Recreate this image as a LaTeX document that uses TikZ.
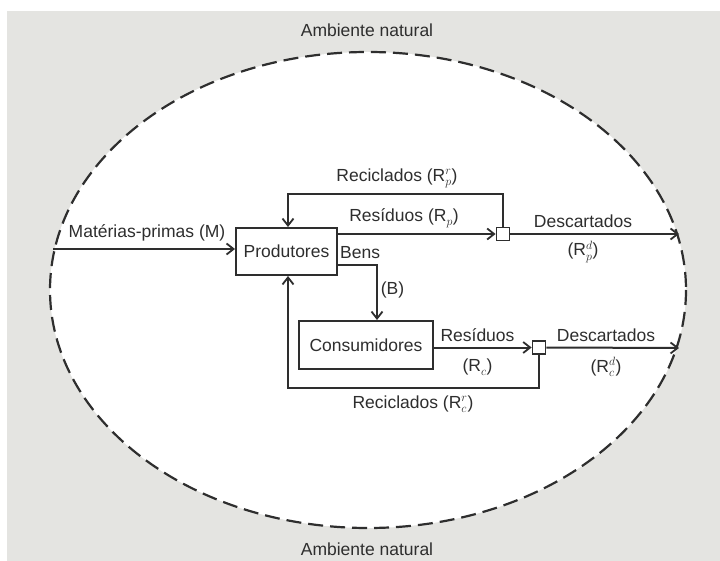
\documentclass[tikz,border=0pt]{standalone}
\usepackage{fontspec}
\setmainfont{Liberation Sans}
\usetikzlibrary{arrows.meta,calc}
\definecolor{bgcol}{HTML}{E4E4E1}
\definecolor{ink}{HTML}{2E2E2E}
\newcommand{\Rsym}[2]{R$^{#2}_{#1}$}
\begin{document}
\begin{tikzpicture}[x=1pt,y=-1pt,
  every node/.style={font=\fontsize{17.5}{20}\selectfont, text=ink},
  box/.style={draw=ink, line width=2pt, fill=white, inner sep=0pt},
  sq/.style={draw=ink, line width=1.8pt, fill=white, minimum size=13pt, inner sep=0pt},
  arr/.style={draw=ink, line width=2pt, -{Straight Barb[length=7pt,width=11pt,line width=1.8pt]}},
  lbl/.style={inner sep=1pt}]
\useasboundingbox (0,0) rectangle (720,561);
\fill[bgcol] (7,11) rectangle (720,561);
\draw[ink, line width=2.2pt, dash pattern=on 15pt off 7pt, fill=white] (368,290) ellipse [x radius=318, y radius=238];

\node[lbl] (ambtop) at (367,30) {Ambiente natural};
\node[lbl] (ambbot) at (367,549) {Ambiente natural};

\node[box, minimum width=101pt, minimum height=47pt] (prod) at (286.5,251.5) {Produtores};
\node[box, minimum width=134pt, minimum height=48pt] (cons) at (366,345) {Consumidores};
\node[sq] (sp) at (503,234) {};
\node[sq] (sc) at (539,347.5) {};

\coordinate (mstart) at (53,249);
\coordinate (dp) at (679,234);
\coordinate (dc) at (679,348);
\coordinate (rp) at (288,194.5);
\coordinate (rc) at (288,388);
\coordinate (bc) at (377,265.5);

\draw[arr] (mstart) -- (mstart -| prod.west);
\draw[arr] (sp -| prod.east) -- (sp.west);
\draw[arr] (sp.east) -- (dp);
\draw[arr] (sp.north) |- (rp) -- (rp |- prod.north);
\draw[arr] (bc -| prod.east) -| (bc |- cons.north);
\draw[arr] (sc -| cons.east) -- (sc.west);
\draw[arr] (sc.east) -- (dc);
\draw[arr] (sc.south) |- (rc) -- (rc |- prod.south);

\node[lbl] (lm) at (147,233) {Matérias-primas (M)};
\node[lbl] (lrp) at (404,218) {Resíduos (\Rsym{p}{})};
\node[lbl] (lrecp) at (397,178) {Reciclados (\Rsym{p}{r})};
\node[lbl] (ldp) at (583,221) {Descartados};
\node[lbl] (ldp2) at (583,252) {(\Rsym{p}{d})};
\node[lbl, anchor=west] (lbens) at (339,253) {Bens};
\node[lbl] (lb) at (392.5,289.5) {(B)};
\node[lbl] (lrc) at (477.5,335) {Resíduos};
\node[lbl] (lrc2) at (477.5,367) {(\Rsym{c}{})};
\node[lbl] (ldc) at (606,335) {Descartados};
\node[lbl] (ldc2) at (606,367) {(\Rsym{c}{d})};
\node[lbl] (lrecc) at (413,404) {Reciclados (\Rsym{c}{r})};
\end{tikzpicture}
\end{document}
